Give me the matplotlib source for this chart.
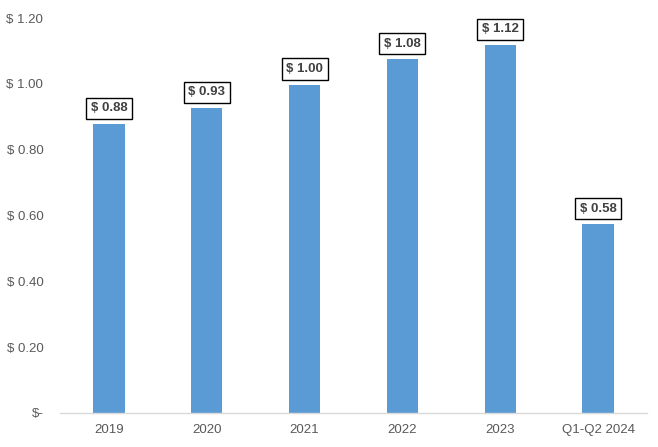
import matplotlib
matplotlib.use("Agg")
import matplotlib.pyplot as plt

# data
categories = ["2019", "2020", "2021", "2022", "2023", "Q1-Q2 2024"]
values = [0.878, 0.927, 0.997, 1.074, 1.118, 0.573]
value_labels = ["$ 0.88", "$ 0.93", "$ 1.00", "$ 1.08", "$ 1.12", "$ 0.58"]
y_ticks = [0.0, 0.2, 0.4, 0.6, 0.8, 1.0, 1.2]
y_tick_labels = ["$-", "$ 0.20", "$ 0.40", "$ 0.60", "$ 0.80", "$ 1.00", "$ 1.20"]

plt.rcParams["font.family"] = ["Liberation Sans", "DejaVu Sans"]

fig = plt.figure(figsize=(6.58, 4.47), dpi=100, facecolor="white")
ax = fig.add_axes([60 / 658, 34 / 447, 587 / 658, 395 / 447])

x = range(len(categories))
ax.bar(x, values, width=0.32, color="#5B9BD5", zorder=2)

# boxed value labels above each bar
for xi, v, lab in zip(x, values, value_labels):
    ax.annotate(lab, (xi, v), xytext=(0, 7), textcoords="offset points",
                ha="center", va="bottom", fontsize=9.5, fontweight="bold", color="#404040",
                bbox=dict(boxstyle="square,pad=0.35", facecolor="white",
                          edgecolor="black", linewidth=1.0))

ax.set_xlim(-0.5, len(categories) - 0.5)
ax.set_ylim(0, 1.2)
ax.set_xticks(list(x))
ax.set_xticklabels(categories)
ax.set_yticks(y_ticks)
ax.set_yticklabels(y_tick_labels)
ax.tick_params(axis="both", length=0, labelsize=9.5, colors="#595959")
ax.tick_params(axis="x", pad=8)
ax.tick_params(axis="y", pad=12)

for side in ["top", "right", "left"]:
    ax.spines[side].set_visible(False)
ax.spines["bottom"].set_color("#D9D9D9")
ax.spines["bottom"].set_linewidth(1.0)

fig.savefig("out.png", dpi=100, facecolor="white")
